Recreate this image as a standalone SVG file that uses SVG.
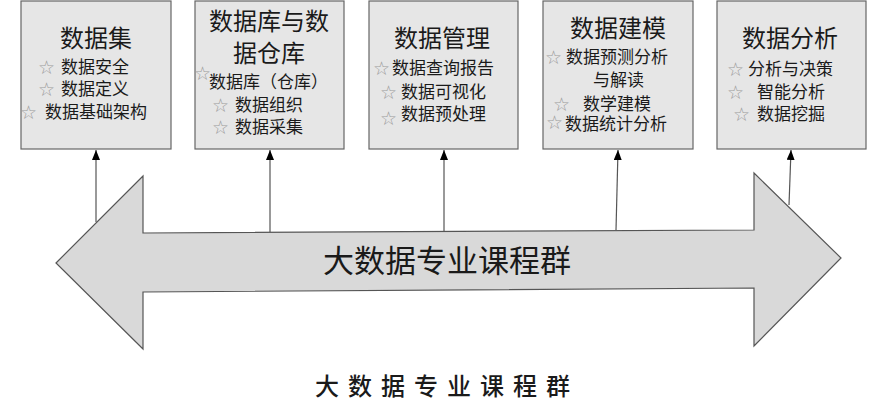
<svg xmlns="http://www.w3.org/2000/svg" width="885" height="401" viewBox="0 0 885 401">
<defs>
<marker id="ah" markerWidth="10" markerHeight="8" refX="10" refY="4" orient="auto" markerUnits="userSpaceOnUse" viewBox="0 0 10 8">
<path d="M0,0 L10,4 L0,8 Z" fill="#000"/>
</marker>
<style>
.box{fill:#e6e6e6;stroke:#666;stroke-width:1.2}
.t{font-family:"Noto Sans CJK SC","Noto Sans CJK JP",sans-serif;fill:#1a1a1a}
.title{font-size:24px}
.item{font-size:17px}
.star{font-family:"DejaVu Sans","Noto Sans CJK SC",sans-serif;font-size:19px;fill:#9a9a9a}
.conn{stroke:#555;stroke-width:1.2;fill:none}
</style>
</defs>
<rect width="885" height="401" fill="#fff"/>

<g id="course-group-arrow">
<polygon points="56,263 143,176 143,233 754,230 754,173 841,258 754,346 754,288 143,292 143,349" fill="#d9d9d9" stroke="#555" stroke-width="1.2"/>
<text class="t" x="323" y="272" font-size="31">大数据专业课程群</text>
</g>

<g id="connectors">
<line class="conn" x1="96" y1="222" x2="96" y2="150" marker-end="url(#ah)"/>
<line class="conn" x1="270" y1="232" x2="270" y2="150" marker-end="url(#ah)"/>
<line class="conn" x1="444" y1="232" x2="444" y2="150" marker-end="url(#ah)"/>
<line class="conn" x1="616" y1="230" x2="618" y2="150" marker-end="url(#ah)"/>
<line class="conn" x1="789" y1="205" x2="791" y2="150" marker-end="url(#ah)"/>
</g>

<g id="node-dataset">
<rect class="box" x="21" y="1" width="150" height="148"/>
<text class="t title" x="96" y="47" text-anchor="middle">数据集</text>
<text class="star" x="38" y="74">☆</text><text class="t item" x="61" y="73">数据安全</text>
<text class="star" x="38" y="96">☆</text><text class="t item" x="61" y="95">数据定义</text>
<text class="star" x="20" y="119">☆</text><text class="t item" x="45" y="118">数据基础架构</text>
</g>

<g id="node-database">
<rect class="box" x="195" y="1" width="149" height="148"/>
<text class="t title" x="269" y="30" text-anchor="middle">数据库与数</text>
<text class="t title" x="269" y="62" text-anchor="middle">据仓库</text>
<text class="star" x="194" y="80">☆</text><text class="t item" x="209" y="88">数据库（仓库）</text>
<text class="star" x="212" y="112">☆</text><text class="t item" x="235" y="111">数据组织</text>
<text class="star" x="212" y="134">☆</text><text class="t item" x="235" y="133">数据采集</text>
</g>

<g id="node-management">
<rect class="box" x="369" y="1" width="149" height="148"/>
<text class="t title" x="442" y="47" text-anchor="middle">数据管理</text>
<text class="star" x="373" y="75">☆</text><text class="t item" x="392" y="74">数据查询报告</text>
<text class="star" x="380" y="99">☆</text><text class="t item" x="401" y="98">数据可视化</text>
<text class="star" x="380" y="125">☆</text><text class="t item" x="401" y="120">数据预处理</text>
</g>

<g id="node-modeling">
<rect class="box" x="543" y="1" width="150" height="148"/>
<text class="t title" x="618" y="37" text-anchor="middle">数据建模</text>
<text class="star" x="545" y="64">☆</text><text class="t item" x="566" y="63">数据预测分析</text>
<text class="t item" x="593" y="86">与解读</text>
<text class="star" x="553" y="111">☆</text><text class="t item" x="583" y="110">数学建模</text>
<text class="star" x="546" y="129">☆</text><text class="t item" x="565" y="130">数据统计分析</text>
</g>

<g id="node-analysis">
<rect class="box" x="717" y="1" width="149" height="148"/>
<text class="t title" x="790" y="47" text-anchor="middle">数据分析</text>
<text class="star" x="727" y="76">☆</text><text class="t item" x="748" y="75">分析与决策</text>
<text class="star" x="727" y="99">☆</text><text class="t item" x="757" y="98">智能分析</text>
<text class="star" x="733" y="121">☆</text><text class="t item" x="757" y="120">数据挖掘</text>
</g>

<text id="caption" class="t" x="315" y="395" font-size="24" font-weight="500" letter-spacing="9">大数据专业课程群</text>
</svg>
